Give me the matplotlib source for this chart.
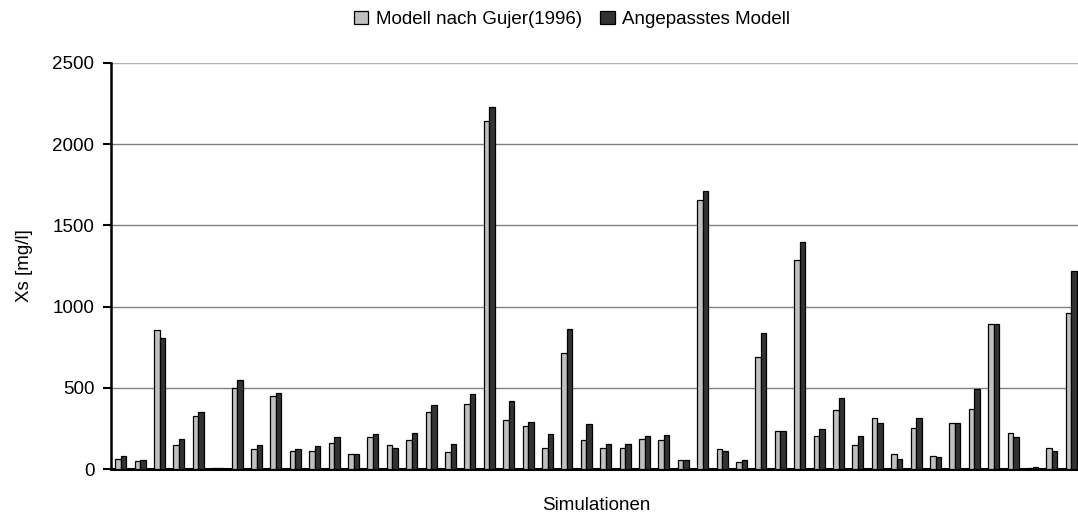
import numpy as np
import matplotlib
matplotlib.use("Agg")
import matplotlib.pyplot as plt

# Data (Xs in mg/l)
sim_labels = [str(i) for i in range(1, 51)]
gujer = [62, 47, 855, 146, 327, 5, 500, 121, 450, 111,
         111, 162, 95, 195, 146, 179, 352, 105, 403, 2140,
         304, 263, 130, 716, 179, 130, 130, 187, 179, 53,
         1655, 121, 45, 689, 234, 1285, 204, 362, 146, 312,
         94, 253, 80, 286, 370, 890, 220, 5, 130, 963]
angepasst = [82, 55, 806, 187, 352, 5, 551, 146, 469, 123,
             139, 197, 95, 214, 130, 222, 395, 154, 460, 2230,
             420, 288, 214, 864, 278, 154, 154, 204, 212, 53,
             1712, 111, 53, 839, 234, 1398, 244, 436, 204, 286,
             62, 312, 72, 286, 494, 890, 195, 14, 113, 1217]

plt.rcParams['font.family'] = ['Liberation Sans', 'DejaVu Sans']
fs = 13.5

fig = plt.figure(figsize=(10.78, 5.15), dpi=100)
ax = fig.add_axes([111/1078, 46/515, 970/1078, 406/515])

x = np.arange(len(sim_labels))
w = 0.28
ax.bar(x - w/2, gujer, w, color="#c0c0c0", edgecolor="black", linewidth=0.9,
       label="Modell nach Gujer(1996)", zorder=3)
ax.bar(x + w/2, angepasst, w, color="#333333", edgecolor="black", linewidth=0.9,
       label="Angepasstes Modell", zorder=3)

ax.set_xlim(-0.5, len(sim_labels) - 0.5)
ax.set_ylim(0, 2500)
ax.set_yticks(np.arange(0, 2501, 500))
ax.set_xticks([])
ax.yaxis.grid(True, color="#808080", linewidth=1)
ax.set_axisbelow(True)
# top gridline is drawn lighter in the original
ax.get_ygridlines()[-1].set_color("#b0b0b0")

for s in ["top", "right"]:
    ax.spines[s].set_visible(False)
ax.spines["left"].set_linewidth(1.8)
ax.spines["bottom"].set_linewidth(2.2)
ax.tick_params(axis="y", direction="out", length=6, width=1.5, labelsize=fs, pad=6)

ax.set_ylabel("Xs [mg/l]", fontsize=fs, labelpad=14)
ax.set_xlabel("Simulationen", fontsize=fs, labelpad=20)

fig.legend(loc="upper center", bbox_to_anchor=(572/1078, 1.012), ncol=2, frameon=False,
           fontsize=fs, handlelength=0.75, handleheight=0.75, handletextpad=0.4,
           columnspacing=1.0)

fig.savefig("out.png", dpi=100)
